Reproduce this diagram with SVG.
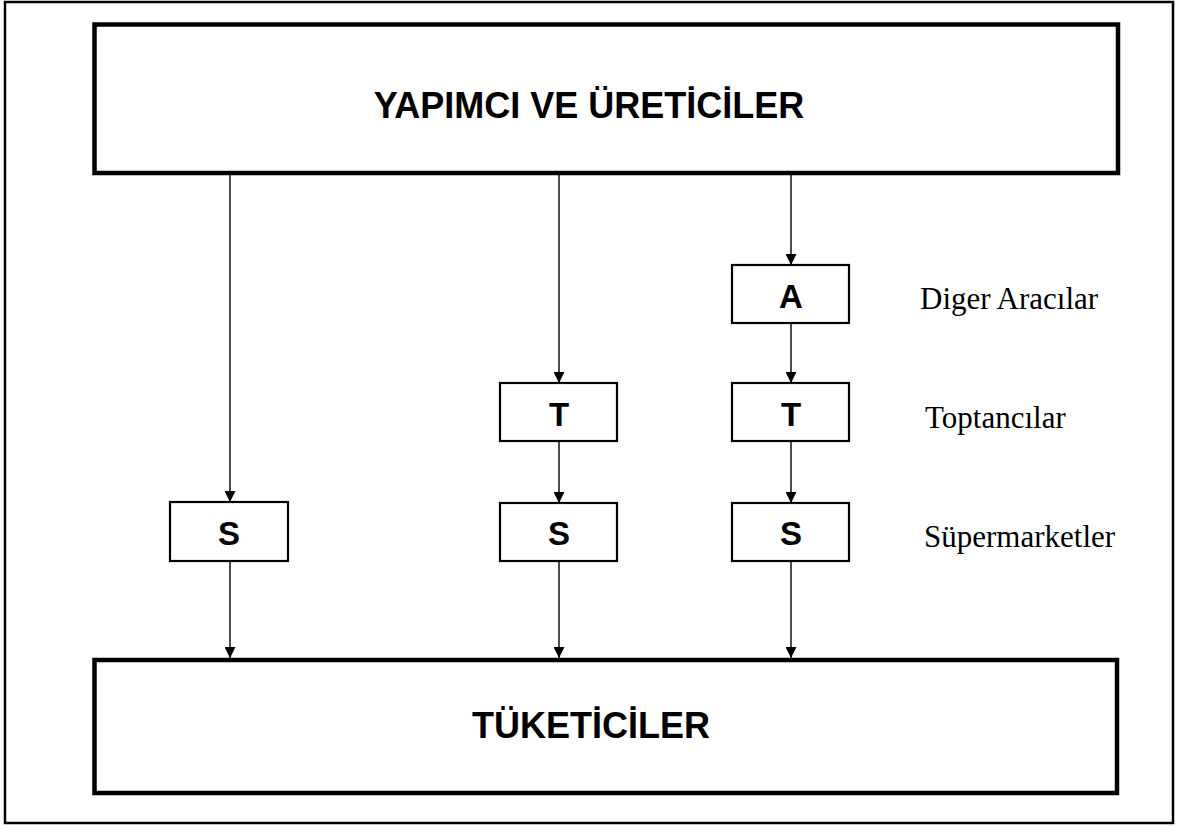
<svg xmlns="http://www.w3.org/2000/svg" width="1185" height="827" viewBox="0 0 1185 827">
<style>
.big{fill:#fff;stroke:#000;stroke-width:4.5}
.small{fill:#fff;stroke:#000;stroke-width:2.2}
.hd{font-family:"Liberation Sans",Arial,sans-serif;font-weight:bold;font-size:36px;text-anchor:middle;fill:#000}
.lt{font-family:"Liberation Sans",Arial,sans-serif;font-weight:bold;font-size:33px;text-anchor:middle;fill:#000}
.lb{font-family:"Liberation Serif","Times New Roman",serif;font-size:31px;fill:#000}
.cn{stroke:#000;stroke-width:1.4;fill:none;marker-end:url(#ah)}
</style>
<defs>
<marker id="ah" markerWidth="11" markerHeight="11" refX="11" refY="5.5" orient="auto" markerUnits="userSpaceOnUse">
<path d="M0,0 L11,5.5 L0,11 Z" fill="#000"/>
</marker>
</defs>
<rect x="0" y="0" width="1185" height="827" fill="#fff"/>
<rect id="frame" x="5" y="2" width="1168" height="821" fill="none" stroke="#000" stroke-width="2.5"/>
<g id="connectors">
<line class="cn" x1="230" y1="175" x2="230" y2="502"/>
<line class="cn" x1="559" y1="175" x2="559" y2="383"/>
<line class="cn" x1="791" y1="175" x2="791" y2="265"/>
<line class="cn" x1="791" y1="323" x2="791" y2="383"/>
<line class="cn" x1="559" y1="441" x2="559" y2="503"/>
<line class="cn" x1="791" y1="441" x2="791" y2="503"/>
<line class="cn" x1="230" y1="561" x2="230" y2="658"/>
<line class="cn" x1="559" y1="561" x2="559" y2="658"/>
<line class="cn" x1="791" y1="561" x2="791" y2="658"/>
</g>
<g id="producers">
<rect class="big" x="94.5" y="24.5" width="1023.5" height="148.5"/>
<text class="hd" x="589" y="118">YAPIMCI VE ÜRETİCİLER</text>
</g>
<g id="consumers">
<rect class="big" x="94.5" y="660" width="1022.5" height="133"/>
<text class="hd" x="591" y="738">TÜKETİCİLER</text>
</g>
<g id="s1">
<rect class="small" x="170" y="502" width="118" height="59"/>
<text class="lt" x="229" y="545">S</text>
</g>
<g id="t2">
<rect class="small" x="500" y="383" width="117" height="58"/>
<text class="lt" x="559" y="426">T</text>
</g>
<g id="s2">
<rect class="small" x="500" y="503" width="117" height="58"/>
<text class="lt" x="559" y="545">S</text>
</g>
<g id="a3">
<rect class="small" x="732" y="265" width="117" height="58"/>
<text class="lt" x="791" y="308">A</text>
</g>
<g id="t3">
<rect class="small" x="732" y="383" width="117" height="58"/>
<text class="lt" x="791" y="426">T</text>
</g>
<g id="s3">
<rect class="small" x="732" y="503" width="117" height="58"/>
<text class="lt" x="791" y="545">S</text>
</g>
<g id="labels">
<text class="lb" x="920" y="309">Diger Aracılar</text>
<text class="lb" x="925" y="428">Toptancılar</text>
<text class="lb" x="924" y="547">Süpermarketler</text>
</g>
</svg>
